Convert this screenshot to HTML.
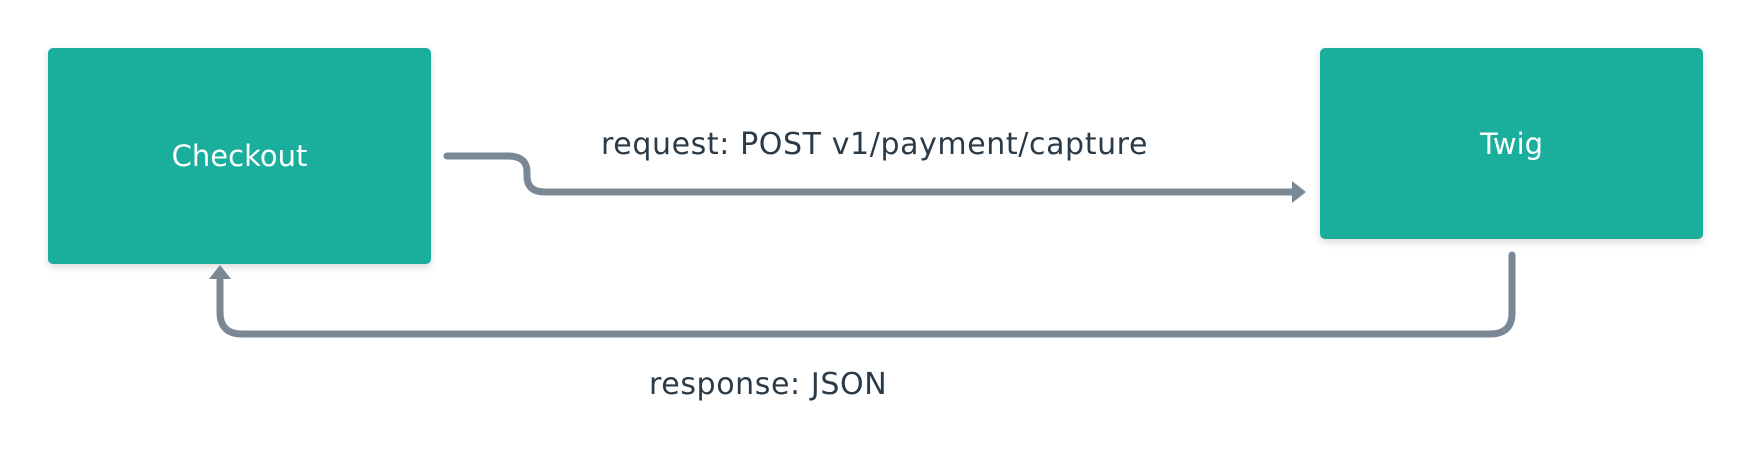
<!DOCTYPE html>
<html><head><style>
html,body{margin:0;padding:0;background:#fff;}
body{width:1752px;height:456px;position:relative;overflow:hidden;font-family:"DejaVu Sans","Liberation Sans",sans-serif;}
.box{position:absolute;background:#1aaf9d;border-radius:5px;box-shadow:0 3px 8px rgba(0,0,0,0.15);color:#fff;font-size:29px;display:flex;align-items:center;justify-content:center;}
.lbl{position:absolute;color:#2a3a48;font-size:30px;letter-spacing:0.6px;white-space:nowrap;}
</style></head><body>
<div class="box" style="left:48px;top:48px;width:383px;height:216px;">Checkout</div>
<div class="box" style="left:1320px;top:48px;width:383px;height:191px;">Twig</div>
<svg width="1752" height="456" style="position:absolute;left:0;top:0">
<g fill="none" stroke="#7a8896" stroke-width="7" stroke-linecap="round">
<path d="M447 156 H508 Q527 156 527 172 V176 Q527 192 545 192 H1296"/>
<path d="M1512 255 V313 Q1512 334 1490 334 H242 Q220 334 220 312 V280"/>
</g>
<polygon points="1306,192 1292,181 1292,203" fill="#7a8896"/>
<polygon points="220,265 209,279 231,279" fill="#7a8896"/>
</svg>
<div class="lbl" style="left:601px;top:127px;">request: POST v1/payment/capture</div>
<div class="lbl" style="left:649px;top:367px;">response: JSON</div>
</body></html>
